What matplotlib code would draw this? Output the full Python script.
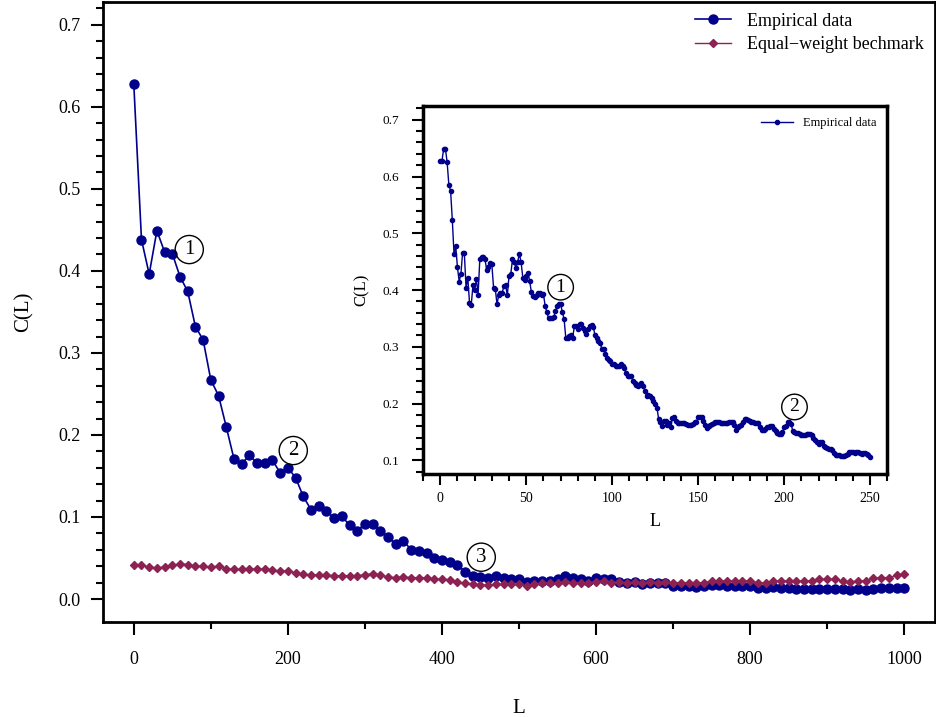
import numpy as np
import matplotlib
matplotlib.use("Agg")
import matplotlib.pyplot as plt

plt.rcParams['font.family'] = ['Liberation Serif', 'DejaVu Serif']

# main panel: lag L every 10 steps
L_main = np.arange(0, 1001, 10)
empirical = [
    0.628, 0.438, 0.396, 0.449, 0.423, 0.421, 0.393, 0.375, 0.332, 0.316,
    0.267, 0.248, 0.210, 0.171, 0.165, 0.175, 0.166, 0.166, 0.169, 0.154,
    0.160, 0.148, 0.125, 0.109, 0.113, 0.107, 0.099, 0.101, 0.090, 0.083,
    0.092, 0.092, 0.083, 0.076, 0.067, 0.071, 0.060, 0.059, 0.056, 0.050,
    0.048, 0.045, 0.042, 0.033, 0.028, 0.027, 0.026, 0.028, 0.026, 0.025,
    0.024, 0.021, 0.022, 0.022, 0.022, 0.024, 0.028, 0.026, 0.024, 0.022,
    0.026, 0.024, 0.025, 0.021, 0.020, 0.021, 0.018, 0.019, 0.019, 0.019,
    0.016, 0.016, 0.016, 0.015, 0.016, 0.017, 0.017, 0.016, 0.016, 0.016,
    0.016, 0.013, 0.013, 0.015, 0.014, 0.013, 0.0126, 0.0126, 0.0126, 0.0126,
    0.0126, 0.0126, 0.012, 0.011, 0.012, 0.011, 0.0126, 0.013, 0.013, 0.014,
    0.014,
]
benchmark = [
    0.042, 0.041, 0.039, 0.038, 0.039, 0.041, 0.043, 0.042, 0.040, 0.040,
    0.039, 0.040, 0.037, 0.036, 0.036, 0.036, 0.037, 0.036, 0.035, 0.034,
    0.034, 0.032, 0.030, 0.0295, 0.0295, 0.029, 0.0285, 0.0285, 0.0285, 0.0285,
    0.0295, 0.031, 0.029, 0.027, 0.026, 0.027, 0.026, 0.026, 0.026, 0.0245,
    0.024, 0.0235, 0.021, 0.019, 0.018, 0.017, 0.017, 0.018, 0.018, 0.018,
    0.018, 0.016, 0.018, 0.019, 0.019, 0.019, 0.021, 0.019, 0.019, 0.020,
    0.021, 0.022, 0.020, 0.021, 0.019, 0.021, 0.019, 0.021, 0.020, 0.021,
    0.020, 0.020, 0.020, 0.020, 0.020, 0.022, 0.022, 0.022, 0.022, 0.022,
    0.022, 0.020, 0.019, 0.022, 0.022, 0.022, 0.022, 0.022, 0.022, 0.024,
    0.024, 0.024, 0.022, 0.021, 0.022, 0.022, 0.0256, 0.026, 0.026, 0.029,
    0.030,
]

# inset: every lag from 0 to 250
L_inset = np.arange(0, 251)
inset_vals = [
    0.628, 0.628, 0.649, 0.649, 0.625, 0.585, 0.575, 0.524, 0.463, 0.477,
    0.440, 0.415, 0.428, 0.466, 0.465, 0.404, 0.422, 0.378, 0.373, 0.408,
    0.400, 0.419, 0.392, 0.454, 0.458, 0.458, 0.454, 0.436, 0.440, 0.448,
    0.445, 0.404, 0.402, 0.375, 0.391, 0.395, 0.395, 0.407, 0.408, 0.391,
    0.425, 0.428, 0.454, 0.449, 0.439, 0.449, 0.464, 0.449, 0.422, 0.418,
    0.425, 0.430, 0.416, 0.396, 0.390, 0.387, 0.391, 0.394, 0.394, 0.391,
    0.393, 0.372, 0.361, 0.350, 0.350, 0.350, 0.352, 0.363, 0.372, 0.375,
    0.375, 0.361, 0.349, 0.316, 0.316, 0.319, 0.321, 0.316, 0.336, 0.336,
    0.332, 0.340, 0.340, 0.333, 0.328, 0.322, 0.332, 0.336, 0.339, 0.335,
    0.320, 0.316, 0.310, 0.306, 0.296, 0.296, 0.287, 0.280, 0.277, 0.275,
    0.270, 0.269, 0.267, 0.267, 0.267, 0.269, 0.266, 0.262, 0.254, 0.249,
    0.249, 0.249, 0.240, 0.236, 0.233, 0.231, 0.234, 0.236, 0.231, 0.222,
    0.213, 0.215, 0.213, 0.210, 0.205, 0.200, 0.193, 0.173, 0.168, 0.161,
    0.170, 0.170, 0.163, 0.165, 0.158, 0.175, 0.176, 0.170, 0.166, 0.166,
    0.166, 0.165, 0.165, 0.164, 0.163, 0.162, 0.162, 0.164, 0.167, 0.167,
    0.176, 0.176, 0.176, 0.170, 0.162, 0.157, 0.160, 0.162, 0.164, 0.165,
    0.167, 0.167, 0.167, 0.166, 0.166, 0.166, 0.166, 0.166, 0.167, 0.168,
    0.168, 0.162, 0.154, 0.158, 0.160, 0.162, 0.168, 0.173, 0.173, 0.171,
    0.170, 0.168, 0.168, 0.166, 0.165, 0.165, 0.158, 0.154, 0.154, 0.156,
    0.158, 0.159, 0.160, 0.160, 0.156, 0.152, 0.149, 0.146, 0.146, 0.150,
    0.158, 0.160, 0.168, 0.168, 0.164, 0.152, 0.150, 0.149, 0.148, 0.147,
    0.145, 0.144, 0.144, 0.146, 0.146, 0.146, 0.145, 0.140, 0.135, 0.132,
    0.128, 0.133, 0.132, 0.126, 0.124, 0.122, 0.120, 0.120, 0.119, 0.113,
    0.110, 0.109, 0.109, 0.108, 0.108, 0.108, 0.109, 0.112, 0.115, 0.115,
    0.114, 0.113, 0.115, 0.114, 0.113, 0.112, 0.113, 0.113, 0.112, 0.110,
    0.106,
]

blue = '#00008B'
maroon = '#8B2252'

fig = plt.figure(figsize=(9.36, 7.17), dpi=100)

# ---- main panel ----
ax = fig.add_axes([0.110, 0.1325, 0.889, 0.865])
ax.plot(L_main, empirical, '-o', color=blue, lw=1.2, ms=6.5, label='Empirical data')
ax.plot(L_main, benchmark, '-D', color=maroon, lw=1.0, ms=4.2, label='Equal\u2212weight bechmark')
ax.set_xlim(-40, 1040)
ax.set_ylim(-0.028, 0.728)
ax.set_xticks([0, 200, 400, 600, 800, 1000])
ax.set_xticks([100, 300, 500, 700, 900], minor=True)
ax.set_yticks(np.arange(0, 0.71, 0.1))
ax.set_yticks(np.arange(0, 0.73, 0.02), minor=True)
ax.set_yticklabels(['0.0', '0.1', '0.2', '0.3', '0.4', '0.5', '0.6', '0.7'])
ax.tick_params(which='major', length=9, width=1.5, labelsize=13)
ax.tick_params(which='minor', length=5, width=1.5)
ax.tick_params(axis='x', which='major', pad=12)
ax.tick_params(axis='y', which='major', pad=7)
for s in ax.spines.values():
    s.set_linewidth(2)
ax.set_xlabel('L', fontsize=15, labelpad=22)
ax.set_ylabel('C(L)', fontsize=15, labelpad=18)
ax.legend(loc='upper right', frameon=False, fontsize=13, handlelength=2.0,
          borderaxespad=0.2, labelspacing=0.35, handletextpad=0.9)

circ = dict(boxstyle='circle,pad=0.22', fc='none', ec='black', lw=1)
ax.text(72, 0.426, '1', fontsize=15, ha='center', va='center', bbox=circ)
ax.text(207, 0.181, '2', fontsize=15, ha='center', va='center', bbox=circ)
ax.text(451, 0.051, '3', fontsize=15, ha='center', va='center', bbox=circ)

# ---- inset ----
ins = fig.add_axes([0.452, 0.339, 0.496, 0.513])
ins.plot(L_inset, inset_vals, '-o', color=blue, lw=1.0, ms=3, label='Empirical data')
ins.set_xlim(-10, 260)
ins.set_ylim(0.076, 0.724)
ins.set_xticks([0, 50, 100, 150, 200, 250])
ins.set_xticks(np.arange(-10, 261, 10), minor=True)
ins.set_yticks(np.arange(0.1, 0.71, 0.1))
ins.set_yticks(np.arange(0.08, 0.73, 0.02), minor=True)
ins.tick_params(which='major', length=8, width=1.5)
ins.tick_params(which='minor', length=5, width=1.5)
ins.tick_params(axis='x', which='major', labelsize=10, pad=5)
ins.tick_params(axis='y', which='major', labelsize=9.5, pad=9)
for s in ins.spines.values():
    s.set_linewidth(2.5)
ins.set_xlabel('L', fontsize=13, labelpad=6)
ins.set_ylabel('C(L)', fontsize=12, labelpad=9)
ins.legend(loc='upper right', frameon=False, fontsize=9, handlelength=2.5,
           borderaxespad=0.5)
ins.text(70, 0.405, '1', fontsize=14, ha='center', va='center', bbox=circ)
ins.text(206, 0.194, '2', fontsize=14, ha='center', va='center', bbox=circ)

fig.savefig('out.png', dpi=100)
